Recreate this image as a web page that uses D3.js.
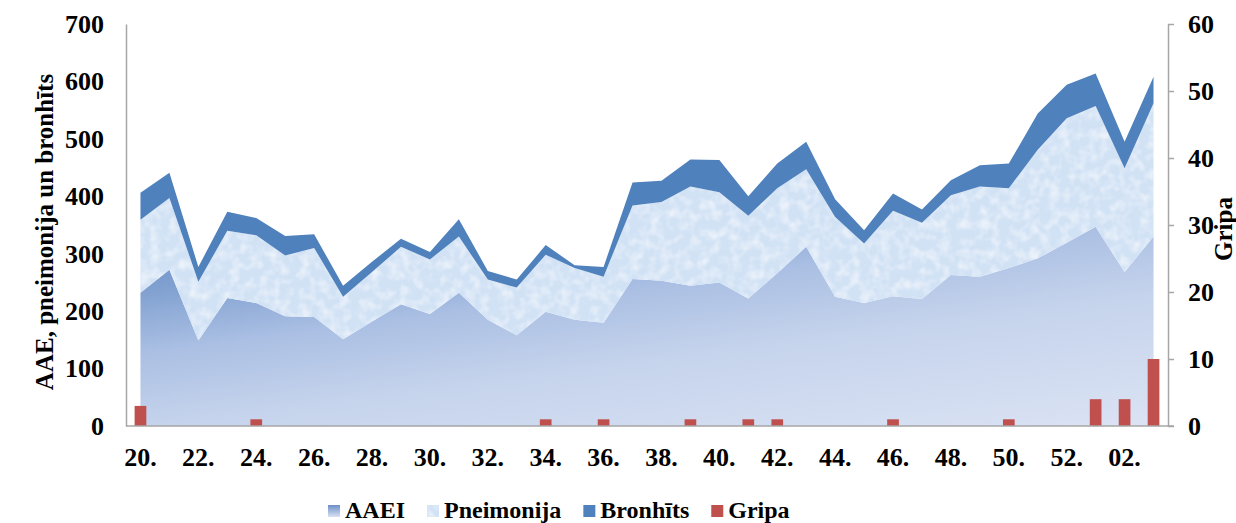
<!DOCTYPE html>
<html>
<head>
<meta charset="utf-8">
<script src="https://cdn.jsdelivr.net/npm/d3@7"></script>
<style>
  body { margin: 0; background: #fff; }
  svg text { font-family: "Liberation Serif", "Times New Roman", Tinos, "DejaVu Serif", serif; font-weight: bold; fill: #000; }
</style>
</head>
<body>
<script>
const weeks = ["20.","21.","22.","23.","24.","25.","26.","27.","28.","29.","30.","31.","32.","33.","34.","35.","36.",
  "37.","38.","39.","40.","41.","42.","43.","44.","45.","46.","47.","48.","49.","50.","51.","52.","01.","02.","03."];
const aaei = [232,272,149,223,214,191,190,151,182,212,195,232,185,158,199,185,180,
  256,253,244,250,222,266,312,225,214,226,221,263,260,275,292,319,347,268,330];
const pneimonija = [127,125,102,117,118,106,120,74,86,100,95,98,70,83,99,90,80,
  128,137,173,157,144,148,135,139,104,149,133,139,157,139,189,217,210,181,232];
const bronhits = [47,44,26,33,30,34,24,19,18,14,13,30,15,14,17,5,17,
  40,37,47,56,34,43,48,31,23,30,23,26,37,43,63,58,57,46,46];
const gripa = [3,0,0,0,1,0,0,0,0,0,0,0,0,0,1,0,1,0,0,1,0,1,1,0,0,0,1,0,0,0,1,0,0,4,4,10];
const leftTicks = [0,100,200,300,400,500,600,700];
const rightTicks = [0,10,20,30,40,50,60];
const xLabels = weeks.filter((d, i) => i % 2 === 0);

const W = 1236, H = 523;
const L = 126, R = 1168, T = 24, B = 426;
const FONT = '"Liberation Serif", "Times New Roman", Tinos, "DejaVu Serif", serif';

const svg = d3.select("body").append("svg").attr("width", W).attr("height", H);
const defs = svg.append("defs");

// AAEI gradient, darker to the upper left
const g1 = defs.append("linearGradient").attr("id", "aaeiGrad")
  .attr("x1", 0).attr("y1", 0).attr("x2", 0.769).attr("y2", 1.154);
[[0, "#6a8cc6"], [0.19, "#80a0d0"], [0.38, "#aabfe3"], [0.6, "#c5d3ec"], [1, "#dbe3f4"]]
  .forEach(s => g1.append("stop").attr("offset", s[0]).attr("stop-color", s[1]));

// paper-ish texture for Pneimonija
const f = defs.append("filter").attr("id", "paper").attr("x", 0).attr("y", 0).attr("width", "100%").attr("height", "100%");
f.append("feTurbulence").attr("type", "fractalNoise").attr("baseFrequency", 0.1).attr("numOctaves", 2).attr("seed", 4).attr("result", "noise");
f.append("feColorMatrix").attr("in", "noise").attr("type", "matrix")
  .attr("values", "0 0 0 0 1  0 0 0 0 1  0 0 0 0 1  1.2 0 0 0 -0.5").attr("result", "spots");
f.append("feComposite").attr("in", "spots").attr("in2", "SourceGraphic").attr("operator", "in").attr("result", "clipped");
const fm = f.append("feMerge");
fm.append("feMergeNode").attr("in", "SourceGraphic");
fm.append("feMergeNode").attr("in", "clipped");

const x = d3.scaleBand().domain(weeks).range([L, R]);
const cx = d => x(d) + x.bandwidth() / 2;
const y = d3.scaleLinear().domain([0, 700]).range([B, T]);
const y2 = d3.scaleLinear().domain([0, 60]).range([B, T]);

const rows = weeks.map((w, i) => ({ week: w, aaei: aaei[i], pneimonija: pneimonija[i], bronhits: bronhits[i] }));
const series = d3.stack().keys(["aaei", "pneimonija", "bronhits"])(rows);

const area = d3.area()
  .x(d => cx(d.data.week))
  .y0(d => y(d[0]))
  .y1(d => y(d[1]));

const fills = { aaei: "url(#aaeiGrad)", pneimonija: "#d2e2f5", bronhits: "#4f81bd" };

svg.append("g").selectAll("path").data(series).enter().append("path")
  .attr("d", area)
  .attr("fill", d => fills[d.key])
  .attr("filter", d => d.key === "pneimonija" ? "url(#paper)" : null);

// bars (Gripa, right axis)
const bw = 11.7;
svg.append("g").selectAll("rect").data(weeks.map((w, i) => ({ w, v: gripa[i] })).filter(d => d.v > 0))
  .enter().append("rect")
  .attr("x", d => cx(d.w) - bw / 2)
  .attr("width", bw)
  .attr("y", d => y2(d.v))
  .attr("height", d => B - y2(d.v))
  .attr("fill", "#c0504d");

// axes
const axisColor = "#a6a6a6";
const styleText = g => g.selectAll("text").attr("font-family", null).attr("font-size", null)
  .style("font-family", FONT).style("font-size", "26px").style("font-weight", "bold").attr("fill", "#000");

const la = svg.append("g").attr("transform", `translate(${L},0)`)
  .call(d3.axisLeft(y).tickValues(leftTicks).tickSize(0).tickPadding(22));
la.attr("font-family", null);
la.select(".domain").attr("stroke", axisColor).attr("stroke-width", 1.5);
styleText(la);

const ra = svg.append("g").attr("transform", `translate(${R},0)`)
  .call(d3.axisRight(y2).tickValues(rightTicks).tickSize(6).tickSizeOuter(0).tickPadding(14));
ra.attr("font-family", null);
ra.select(".domain").attr("stroke", axisColor).attr("stroke-width", 1.5);
ra.selectAll("line").attr("stroke", axisColor).attr("stroke-width", 1.5);
styleText(ra);

const ba = svg.append("g").attr("transform", `translate(0,${B})`)
  .call(d3.axisBottom(x).tickValues(xLabels).tickSize(0).tickPadding(21.5));
ba.attr("font-family", null);
ba.select(".domain").remove();
styleText(ba);
svg.append("line").attr("x1", L).attr("x2", R + 6).attr("y1", B).attr("y2", B)
  .attr("stroke", axisColor).attr("stroke-width", 1.5);

// axis titles
svg.append("text").attr("transform", `translate(53,${(T + B) / 2 + 7}) rotate(-90)`)
  .attr("text-anchor", "middle").style("font-size", "25px").text("AAE, pneimonija un bronhīts");
svg.append("text").attr("transform", `translate(1232,${(T + B) / 2 + 4}) rotate(-90)`)
  .attr("text-anchor", "middle").style("font-size", "25px").text("Gripa");

// legend
const lg2 = defs.append("linearGradient").attr("id", "legGrad").attr("x1", 0).attr("y1", 0).attr("x2", 0).attr("y2", 1);
lg2.append("stop").attr("offset", "0%").attr("stop-color", "#6e8fc7");
lg2.append("stop").attr("offset", "100%").attr("stop-color", "#d8e1f3");

const legendItems = [
  { name: "AAEI", fill: "url(#legGrad)" },
  { name: "Pneimonija", fill: "#d2e2f5" },
  { name: "Bronhīts", fill: "#4f81bd" },
  { name: "Gripa", fill: "#c0504d" }
];
const legend = svg.append("g");
let lx = 328;
legendItems.forEach(it => {
  legend.append("rect").attr("x", lx).attr("y", 505).attr("width", 12).attr("height", 12)
    .attr("fill", it.fill).attr("filter", it.name === "Pneimonija" ? "url(#paper)" : null);
  const t = legend.append("text").attr("x", lx + 17).attr("y", 518).style("font-size", "24px").text(it.name);
  lx += 17 + t.node().getComputedTextLength() + 22;
});
</script>
</body>
</html>
